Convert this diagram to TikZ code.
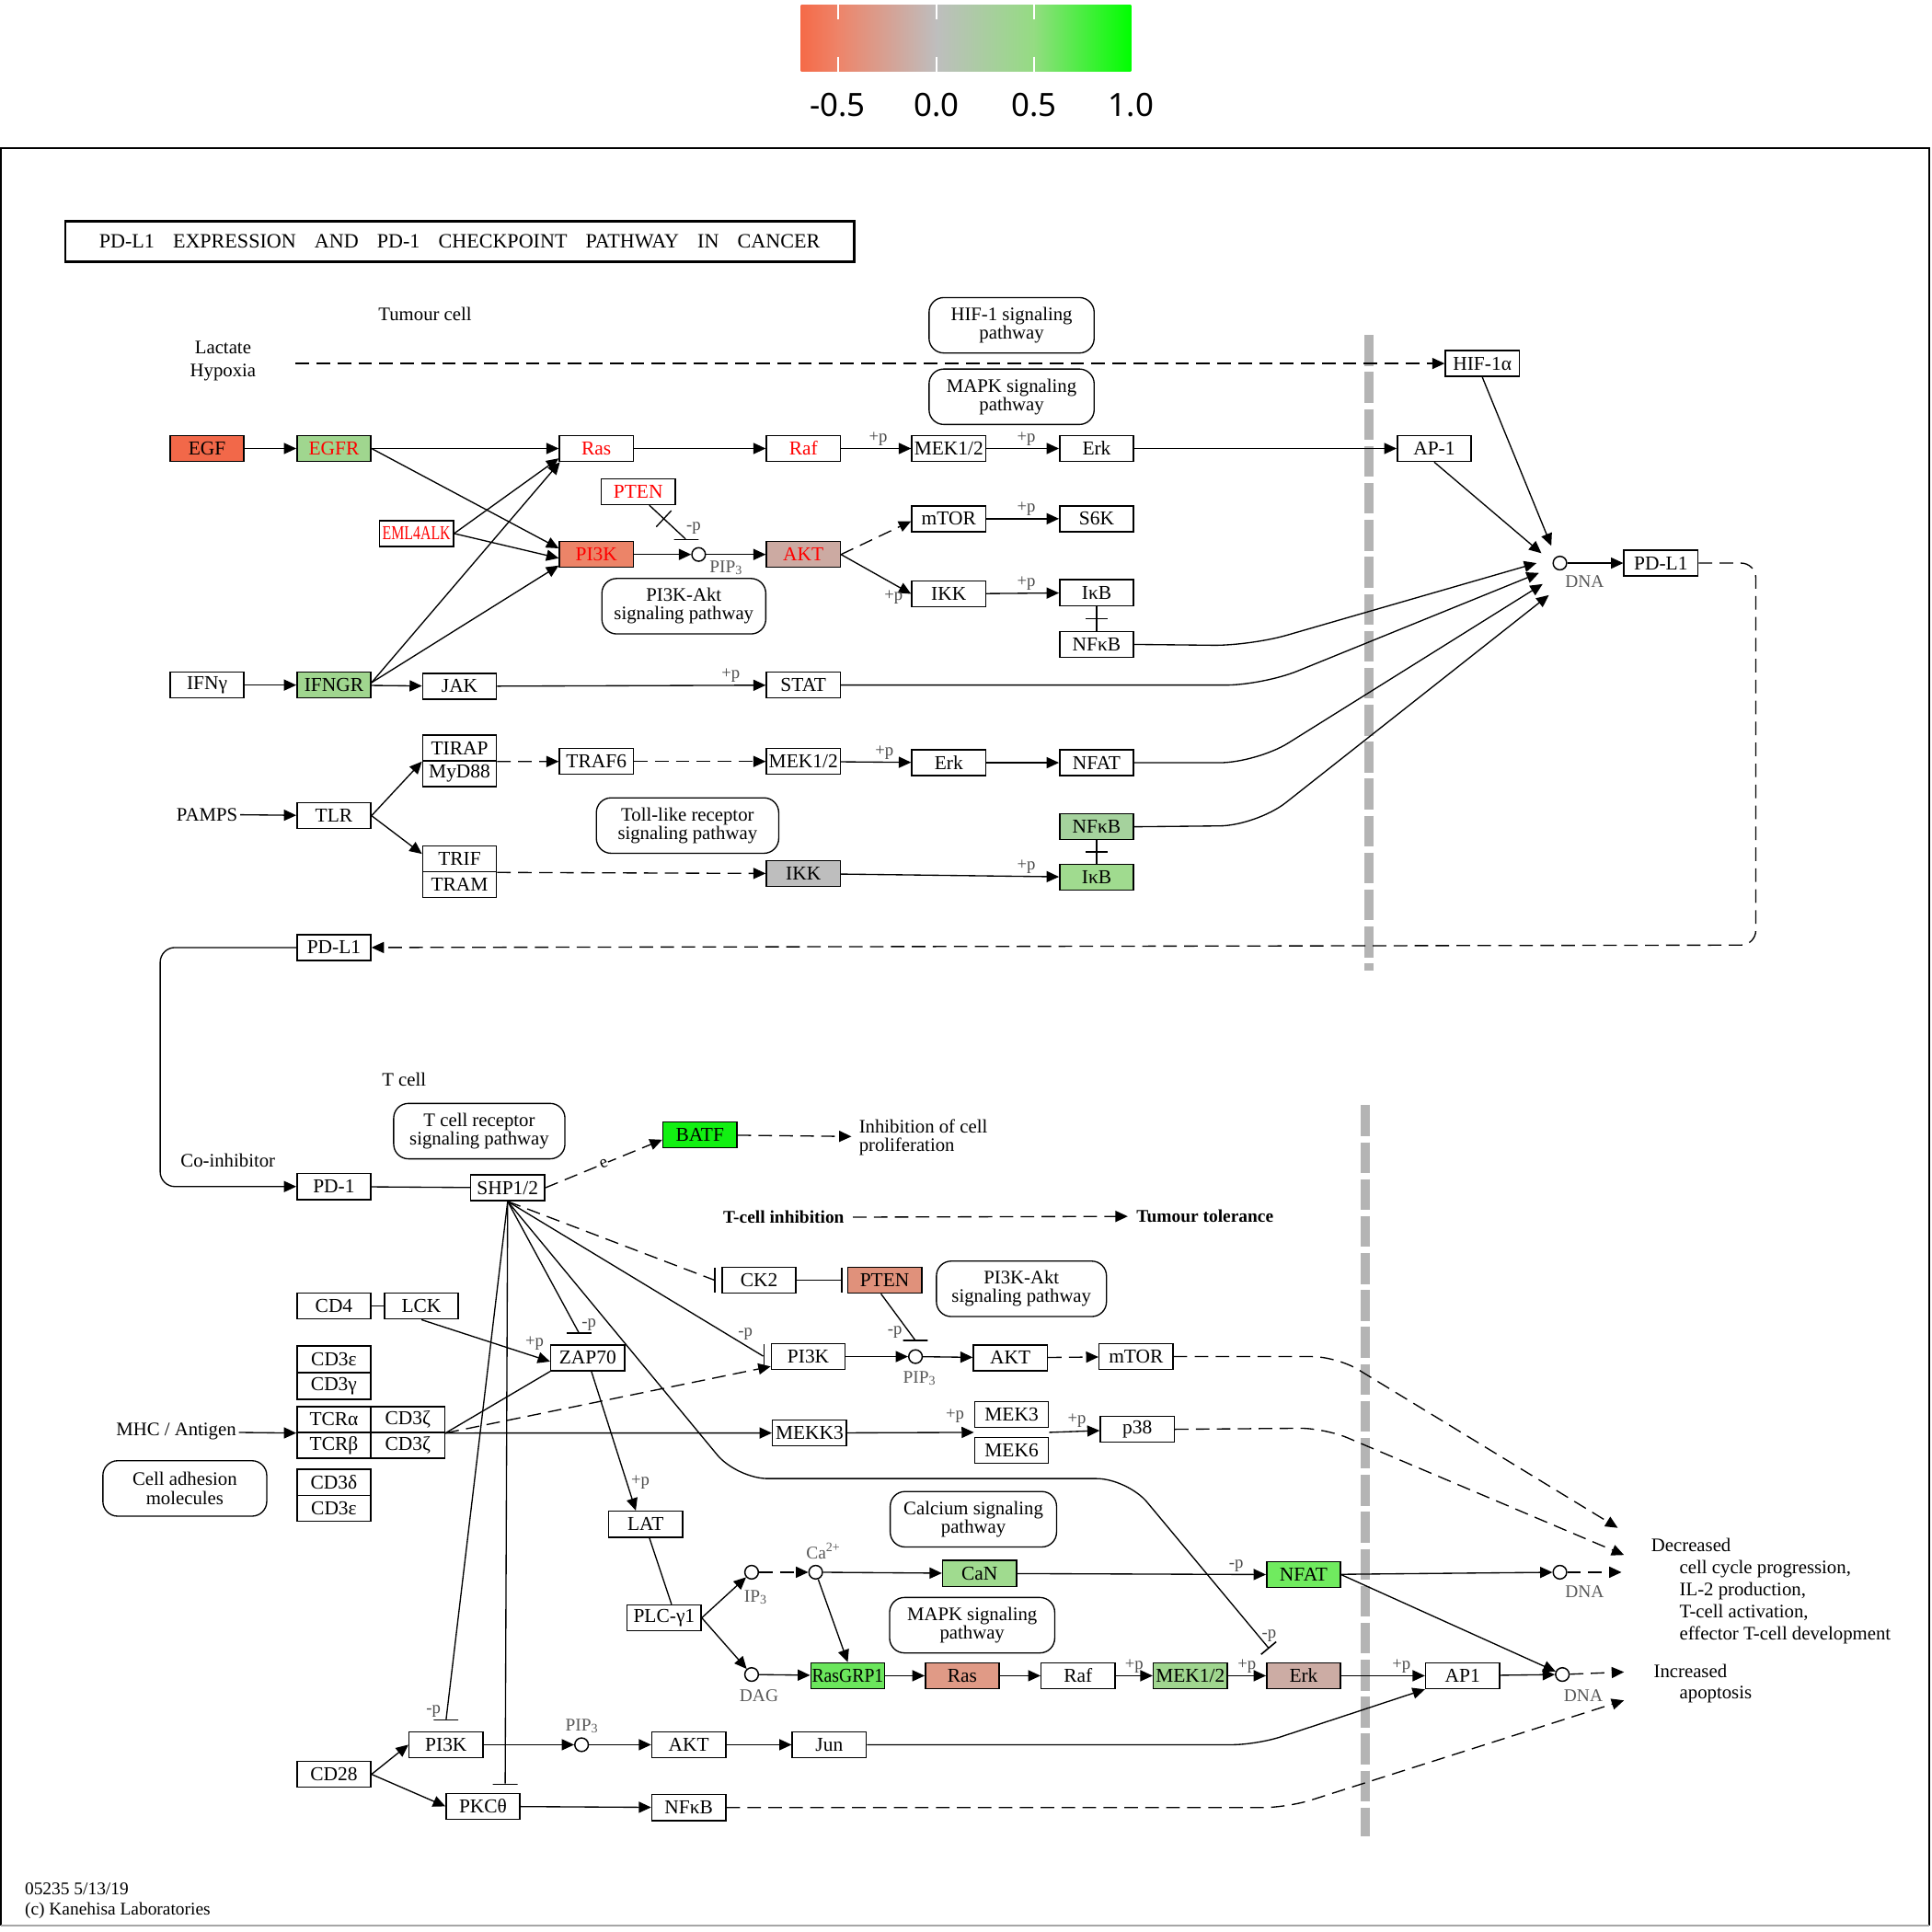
\documentclass[tikz,border=0pt]{standalone}
\usepackage{fontspec}
\setmainfont{Liberation Serif}
\newfontfamily\legendfamily{Noto Sans}
\definecolor{keggEGF}{HTML}{F26849}
\definecolor{keggGreenLt}{HTML}{A0D68F}
\definecolor{keggPIK}{HTML}{EC8468}
\definecolor{keggAKT}{HTML}{CCAAA2}
\definecolor{keggGray}{HTML}{BEBEBE}
\definecolor{keggNFkB}{HTML}{A5D29D}
\definecolor{keggIkB}{HTML}{A0DB8F}
\definecolor{keggBATF}{HTML}{12F012}
\definecolor{keggPTEN}{HTML}{E0917B}
\definecolor{keggNFAT}{HTML}{70EB5F}
\definecolor{keggRasGRP}{HTML}{6BE65C}
\definecolor{keggRas}{HTML}{E09A86}
\definecolor{keggErk}{HTML}{CCACA4}
\definecolor{keggTextRed}{HTML}{FF0000}
\definecolor{keggBarrier}{HTML}{B4B4B4}
\definecolor{legRed}{HTML}{F56A48}
\definecolor{legRedMid}{HTML}{EE8469}
\definecolor{legGray}{HTML}{BEBEBE}
\definecolor{legGreenMid}{HTML}{94DC82}
\definecolor{legGreen}{HTML}{00FF00}
\usetikzlibrary{
	arrows.meta,
	positioning,
	calc,
	decorations.markings
}
\newcommand{\genefont}{\fontsize{16}{16}\selectfont}
\newcommand{\pathfont}{\fontsize{15.5}{15}\selectfont}
\newcommand{\labelfont}{\fontsize{15.5}{18}\selectfont}
\newcommand{\tagfont}{\fontsize{14}{14}\selectfont}
\newcommand{\dnafont}{\fontsize{14.5}{14}\selectfont}
\newcommand{\titlefont}{\fontsize{16.5}{16}\selectfont}
\newcommand{\tgap}{\hspace{15pt}}
\newcommand{\lowsub}[1]{\raisebox{-1.5pt}{\fontsize{10.5}{10}\selectfont #1}}
\tikzset{
	gene/.style={
		draw=black,
		line width=1.1pt,
		fill=white,
		minimum width=60pt,
		minimum height=21pt,
		inner sep=0pt,
		font=\genefont
	},
	geneRed/.style={
		gene,
		text=keggTextRed
	},
	pathway/.style={
		draw=black,
		line width=1pt,
		rounded corners=12pt,
		minimum height=45pt,
		inner sep=0pt,
		align=center,
		font=\pathfont
	},
	compound/.style={
		circle,
		draw=black,
		line width=1.1pt,
		fill=white,
		minimum size=11pt,
		inner sep=0pt
	},
	freetext/.style={
		font=\labelfont,
		inner sep=2pt,
		align=center
	},
	plab/.style={
		font=\tagfont,
		text=black!70,
		inner sep=1pt
	},
	dnalab/.style={
		font=\dnafont,
		text=black!65,
		inner sep=0pt
	},
	titlebox/.style={
		draw=black,
		line width=2.2pt,
		minimum width=640pt,
		minimum height=33pt,
		inner sep=0pt,
		font=\titlefont
	},
	activ/.style={
		-{Triangle[length=10pt,width=9pt]},
		line width=1pt
	},
	activDashed/.style={
		activ,
		dash pattern=on 11pt off 6pt
	},
	edgeLine/.style={
		line width=1pt
	},
	edgeDashed/.style={
		edgeLine,
		dash pattern=on 11pt off 6pt
	},
	hbar/.style={
		draw=black,
		line width=1.2pt,
		minimum width=20pt,
		minimum height=0pt,
		inner sep=0pt
	},
	vbar/.style={
		draw=black,
		line width=1.2pt,
		minimum width=0pt,
		minimum height=20pt,
		inner sep=0pt
	},
	crossbar/.style={
		postaction={decorate},
		decoration={markings, mark=at position #1 with {\draw[line width=1pt] (0,-9pt) -- (0,9pt);}}
	},
	crossbar/.default=0.5,
	barrier/.style={
		draw=keggBarrier,
		line width=7pt,
		dash pattern=on 25pt off 5pt
	},
	legendText/.style={
		font=\legendfamily\fontsize{26}{26}\selectfont,
		inner sep=0pt
	}
}

\begin{document}
\begin{tikzpicture}[x=1pt, y=-1pt]
	\useasboundingbox (0,0) rectangle (1568,1568);
	\fill[white] (0,0) rectangle (1568,1568);

	\shade[left color=legRed, right color=legRedMid] (650,4) rectangle (680.5,58);
	\shade[left color=legRedMid, right color=legGray] (680,4) rectangle (760.5,58);
	\shade[left color=legGray, right color=legGreenMid] (760,4) rectangle (839.5,58);
	\shade[left color=legGreenMid, right color=legGreen] (839,4) rectangle (918,58);
	\foreach \tx in {680,760,839} {
		\draw[white, line width=1.5pt] (\tx,4) -- (\tx,16);
		\draw[white, line width=1.5pt] (\tx,46) -- (\tx,58);
	}
	\foreach \tx/\tv in {680/-0.5, 760/0.0, 839/0.5, 918/1.0}
		\node[legendText] (leg\tx) at (\tx,85) {\tv};

	\draw[line width=1.5pt] (1,1563) -- (1,120) -- (1566,120) -- (1566,1563);
	\draw[line width=1.5pt, black!35] (1,1563) -- (1566,1563);

	\node[titlebox] (title) at (373,196) {PD-L1\tgap EXPRESSION\tgap AND\tgap PD-1\tgap CHECKPOINT\tgap PATHWAY\tgap IN\tgap CANCER};

	\draw[barrier] (1111,272) -- (1111,788);
	\draw[barrier] (1108,897) -- (1108,1490);

	\node[freetext] (tumour) at (345,255) {Tumour cell};
	\node[freetext] (lactate) at (181,293) {Lactate\\Hypoxia};
	\node[pathway, minimum width=134pt] (hifPath) at (821,264) {HIF-1 signaling\\pathway};
	\node[pathway, minimum width=134pt] (mapkPath) at (821,322) {MAPK signaling\\pathway};
	\node[pathway, minimum width=133pt] (pikPath) at (555,492) {PI3K-Akt\\signaling pathway};
	\node[pathway, minimum width=148pt] (tlrPath) at (558,670) {Toll-like receptor\\signaling pathway};

	\node[gene] (hif) at (1203,295) {HIF-1α};
	\node[gene, fill=keggEGF] (egf) at (168,364) {EGF};
	\node[geneRed, fill=keggGreenLt] (egfr) at (271,364) {EGFR};
	\node[geneRed] (ras) at (484,364) {Ras};
	\node[geneRed] (raf) at (652,364) {Raf};
	\node[gene] (mek) at (770,364) {MEK1/2};
	\node[gene] (erk) at (890,364) {Erk};
	\node[gene] (ap1) at (1164,364) {AP-1};
	\node[geneRed] (pten) at (518,399) {PTEN};
	\node[geneRed] (eml) at (338,433) {\scalebox{0.74}[1]{EML4ALK}};
	\node[geneRed, fill=keggPIK] (pik) at (484,450) {PI3K};
	\node[compound] (pip) at (567,450) {};
	\node[geneRed, fill=keggAKT] (akt) at (652,450) {AKT};
	\node[gene] (mtor) at (770,421) {mTOR};
	\node[gene] (sk) at (890,421) {S6K};
	\node[gene] (ikk) at (770,482) {IKK};
	\node[gene] (ikb) at (890,481) {IκB};
	\node[gene] (nfkb) at (890,523) {NFκB};
	\node[hbar] (ptenBar) at (557,438) {};
	\node[plab] (ptenTag) at (563,429) {-p};
	\node[dnalab] (pipLab) at (589,461) {PIP\lowsub{3}};

	\node[gene] (ifng) at (168,556) {IFNγ};
	\node[gene, fill=keggGreenLt] (ifngr) at (271,556) {IFNGR};
	\node[gene] (jak) at (373,557) {JAK};
	\node[gene] (stat) at (652,556) {STAT};

	\node[freetext] (pamps) at (168,661) {PAMPS};
	\node[gene] (tlr) at (271,662) {TLR};
	\node[gene] (tirap) at (373,607) {TIRAP};
	\node[gene] (myd) at (373,628) {MyD88};
	\node[gene] (traf) at (484,618) {TRAF6};
	\node[gene] (mekT) at (652,618) {MEK1/2};
	\node[gene] (erkT) at (770,619) {Erk};
	\node[gene] (nfat) at (890,619) {NFAT};
	\node[gene] (trif) at (373,697) {TRIF};
	\node[gene] (tram) at (373,718) {TRAM};
	\node[gene, fill=keggGray] (ikkT) at (652,709) {IKK};
	\node[gene, fill=keggNFkB] (nfkbT) at (890,671) {NFκB};
	\node[gene, fill=keggIkB] (ikbT) at (890,712) {IκB};

	\node[compound] (dna) at (1266,457) {};
	\node[dnalab] (dnaLab) at (1286,472) {DNA};
	\node[gene] (pdlA) at (1348,457) {PD-L1};
	\node[gene] (pdlB) at (271,769) {PD-L1};
	\coordinate (dnaInHif) at (1259,443);
	\coordinate (dnaInAp) at (1251,449);
	\coordinate (dnaInNfkb) at (1247,457);
	\coordinate (dnaInStat) at (1249,465);
	\coordinate (dnaInNfat) at (1252,474);
	\coordinate (dnaInNfkbT) at (1257,483);

	\draw[activDashed] ([xshift=30pt]lactate.east |- hif) -- (hif);
	\draw[activ] (egf) -- (egfr);
	\draw[activ] (egfr) -- (ras);
	\draw[activ] (ras) -- (raf);
	\draw[activ] (raf) -- node[plab, pos=.53, above=1pt]{+p} (mek);
	\draw[activ] (mek) -- node[plab, pos=.55, above=1pt]{+p} (erk);
	\draw[activ] (erk) -- (ap1);
	\draw[activ] (egfr.east) -- ([yshift=5pt]pik.west);
	\draw[activ] (eml.east) -- ([yshift=-8pt]ras.west);
	\draw[activ] (eml.east) -- ([yshift=-3pt]pik.west);
	\draw[activ] ([yshift=2pt]ifngr.east) -- ([xshift=1pt,yshift=-11pt]ras.west);
	\draw[activ] ([yshift=2pt]ifngr.east) -- ([yshift=-9pt]pik.west);
	\draw[activ] (pik) -- (pip);
	\draw[activ] (pip) -- (akt);
	\draw[edgeLine, crossbar=.4] ([xshift=9pt]pten.south) -- (ptenBar);
	\draw[activDashed] (akt.east) -- ([yshift=-2pt]mtor.west);
	\draw[activ] (akt.east) -- node[plab, pos=.75, below=4pt]{+p} (ikk.west);
	\draw[activ] (mtor) -- node[plab, pos=.55, above=1pt]{+p} (sk);
	\draw[activ] (ikk) -- node[plab, pos=.55, above=1pt]{+p} (ikb);
	\draw[edgeLine, crossbar] (ikb) -- (nfkb);

	\draw[activ] (ifng) -- (ifngr);
	\draw[activ] (ifngr) -- (jak);
	\draw[activ] (jak) -- node[plab, pos=.87, above=1pt]{+p} (stat);

	\draw[activ] (pamps) -- (tlr);
	\draw[activ] (tlr.east) -- (tirap.south west);
	\draw[activ] (tlr.east) -- ([yshift=4pt]trif.west);
	\draw[activDashed] (tirap.south east) -- (traf);
	\draw[activDashed] (traf) -- (mekT);
	\draw[activ] (mekT) -- node[plab, pos=.62, above=1pt]{+p} (erkT);
	\draw[activ] (erkT) -- (nfat);
	\draw[activDashed] (trif.south east) -- (ikkT);
	\draw[activ] (ikkT) -- node[plab, pos=.85, above=1pt]{+p} (ikbT);
	\draw[edgeLine, crossbar] (nfkbT) -- (ikbT);

	\draw[activ] (hif.south) -- (dnaInHif);
	\draw[activ] (ap1.south) -- (dnaInAp);
	\draw[activ, rounded corners=30pt] (nfkb.east) -- (1015,524) -- (dnaInNfkb);
	\draw[activ, rounded corners=30pt] (stat.east) -- (1025,556) -- (dnaInStat);
	\draw[activ, rounded corners=30pt] (nfat.east) -- (1020,619) -- (dnaInNfat);
	\draw[activ, rounded corners=30pt] (nfkbT.east) -- (1020,670) -- (dnaInNfkbT);
	\draw[activ] (dna) -- (pdlA);
	\draw[activDashed, rounded corners=12pt] (pdlA.east) -- (1425,457) -- (1425,767) -- (pdlB.east);

	\node[freetext] (tcell) at (328,876) {T cell};
	\node[freetext] (coinh) at (185,942) {Co-inhibitor};
	\node[pathway, minimum width=139pt] (tcrPath) at (389,918) {T cell receptor\\signaling pathway};
	\node[pathway, minimum width=138pt] (pikPathT) at (829,1046) {PI3K-Akt\\signaling pathway};
	\node[pathway, minimum width=135pt] (caPath) at (790,1233) {Calcium signaling\\pathway};
	\node[pathway, minimum width=134pt] (mapkPathT) at (789,1319) {MAPK signaling\\pathway};
	\node[pathway, minimum width=133pt] (camPath) at (150,1208) {Cell adhesion\\molecules};

	\node[gene] (pd1) at (271,963) {PD-1};
	\node[gene] (shp) at (412,964) {SHP1/2};
	\node[gene, fill=keggBATF] (batf) at (568,921) {BATF};
	\node[freetext, align=left, inner sep=6pt, anchor=west, font=\pathfont] (prolif) at (691,923) {Inhibition of cell\\proliferation};
	\node[freetext, inner sep=7pt, font=\fontsize{14.5}{14}\selectfont\bfseries] (tinh) at (636,988) {T-cell inhibition};
	\node[freetext, inner sep=7pt, font=\fontsize{14.5}{14}\selectfont\bfseries] (ttol) at (978,987) {Tumour tolerance};
	\node[gene] (ck) at (616,1039) {CK2};
	\node[gene, fill=keggPTEN] (ptenT) at (718,1039) {PTEN};
	\node[gene] (cdf) at (271,1060) {CD4};
	\node[gene] (lck) at (342,1060) {LCK};
	\node[gene] (zap) at (477,1102) {ZAP70};
	\node[gene] (pikT) at (656,1101) {PI3K};
	\node[compound] (pipT) at (743,1101) {};
	\node[dnalab] (pipTLab) at (746,1119) {PIP\lowsub{3}};
	\node[gene] (aktT) at (820,1102) {AKT};
	\node[gene] (mtorT) at (922,1101) {mTOR};
	\node[gene] (cdea) at (271,1103) {CD3ε};
	\node[gene] (cdg) at (271,1125) {CD3γ};
	\node[gene] (tcra) at (271,1152) {TCRα};
	\node[gene] (cdza) at (331,1152) {CD3ζ};
	\node[gene] (tcrb) at (271,1173) {TCRβ};
	\node[gene] (cdzb) at (331,1173) {CD3ζ};
	\node[gene] (cdd) at (271,1203) {CD3δ};
	\node[gene] (cdeb) at (271,1224) {CD3ε};
	\node[freetext] (mhc) at (143,1162) {MHC / Antigen};
	\node[gene] (mekk) at (657,1163) {MEKK3};
	\node[gene] (mekc) at (821,1148) {MEK3};
	\node[gene] (mekf) at (821,1177) {MEK6};
	\node[gene] (p38) at (923,1160) {p38};
	\node[gene] (lat) at (524,1237) {LAT};
	\node[gene] (plc) at (539,1313) {PLC-γ1};
	\node[compound] (ip) at (610,1276) {};
	\node[dnalab] (ipLab) at (613,1296) {IP\lowsub{3}};
	\node[compound] (ca) at (662,1276) {};
	\node[dnalab] (caLab) at (668,1259) {Ca\raisebox{6pt}{\fontsize{10.5}{10}\selectfont 2+}};
	\node[compound] (dag) at (610,1359) {};
	\node[dnalab] (dagLab) at (616,1376) {DAG};
	\node[gene, fill=keggIkB] (can) at (795,1277) {CaN};
	\node[gene, fill=keggNFAT] (nfatT) at (1058,1278) {NFAT};
	\node[gene, fill=keggRasGRP] (rasgrp) at (688,1360) {\scalebox{0.92}[1]{RasGRP1}};
	\node[gene, fill=keggRas] (rasT) at (781,1360) {Ras};
	\node[gene] (rafT) at (875,1360) {Raf};
	\node[gene, fill=keggGreenLt] (mekL) at (966,1360) {MEK1/2};
	\node[gene, fill=keggErk] (erkL) at (1058,1360) {Erk};
	\node[gene] (apL) at (1187,1360) {AP1};
	\node[compound] (dnaD) at (1266,1276) {};
	\node[dnalab] (dnaDLab) at (1286,1292) {DNA};
	\node[compound] (dnaI) at (1268,1359) {};
	\node[dnalab] (dnaILab) at (1285,1376) {DNA};
	\node[gene] (cdte) at (271,1440) {CD28};
	\node[gene] (pikL) at (362,1416) {PI3K};
	\node[compound] (pipL) at (472,1416) {};
	\node[dnalab] (pipLLab) at (472,1401) {PIP\lowsub{3}};
	\node[gene] (aktL) at (559,1416) {AKT};
	\node[gene] (jun) at (673,1416) {Jun};
	\node[gene] (pkc) at (392,1466) {PKCθ};
	\node[gene] (nfkbL) at (559,1467) {NFκB};

	\node[vbar] (ckBar) at (580,1039) {};
	\node[vbar] (ptenBarT) at (683,1039) {};
	\node[vbar] (pikBar) at (620,1101) {};
	\node[hbar] (zapBar) at (470,1082) {};
	\node[hbar] (pipBar) at (743,1088) {};
	\node[hbar] (pikLBar) at (362,1396) {};
	\node[hbar] (pkcBar) at (410,1448) {};
	\coordinate (erkBar) at (1030,1338);
	\coordinate (outDecA) at (1313,1240);
	\coordinate (outDecB) at (1318,1262);
	\coordinate (outDecC) at (1316,1276);
	\coordinate (outIncA) at (1318,1357);
	\coordinate (outIncB) at (1318,1380);

	\node[freetext, anchor=west, inner sep=0pt] (decr) at (1340,1254) {Decreased};
	\node[freetext, anchor=north west, align=left, inner sep=0pt] (decrList) at (1363,1266) {cell cycle progression,\\IL-2 production,\\T-cell activation,\\effector T-cell development};
	\node[freetext, anchor=west, inner sep=0pt] (incr) at (1342,1356) {Increased};
	\node[freetext, anchor=west, inner sep=0pt] (apop) at (1363,1375) {apoptosis};

	\draw[activ, rounded corners=12pt] (pdlB.west) -- (130,769) -- (130,963) -- (pd1.west);
	\draw[edgeLine] (pd1) -- (shp);
	\draw[activDashed] (shp.east) -- node[pos=.5, sloped, fill=white, inner sep=0.5pt, font=\tagfont]{e} ([yshift=-4pt]batf.west);
	\draw[activDashed] (batf) -- (prolif);
	\draw[activDashed] (tinh) -- (ttol);
	\draw[edgeDashed] (shp.south) -- (ckBar);
	\draw[edgeLine] (ck) -- (ptenBarT);
	\draw[edgeLine] (shp.south) -- node[plab, pos=.93, above=3pt]{-p} (pikBar);
	\draw[edgeLine] (shp.south) -- (zapBar) node[plab, pos=1, anchor=south west, xshift=1pt]{-p};
	\draw[edgeLine] (shp.south) -- (pikLBar) node[plab, pos=1, anchor=south east, xshift=-3pt]{-p};
	\draw[edgeLine] (shp.south) -- (pkcBar);
	\draw[edgeLine, rounded corners=25pt, -{Bar[width=16pt,line width=1.2pt]}] (shp.south) -- (598,1200) -- (915,1200) -- (erkBar) node[plab, pos=1, anchor=south, yshift=4pt]{-p};
	\draw[edgeLine] ([xshift=-3pt]ptenT.south) -- (pipBar) node[plab, pos=1, anchor=south east, xshift=-9pt]{-p};

	\draw[activ] (mhc) -- (tcra.south west);
	\draw[edgeLine] (cdf) -- (lck);
	\draw[activ] (lck.south) -- node[plab, pos=.88, above=4pt]{+p} ([yshift=-3pt]zap.west);
	\draw[edgeLine] (cdza.south east) -- (zap.south west);
	\draw[activDashed] (cdza.south east) -- ([yshift=-8pt]pikT.west);
	\draw[activ] (cdza.south east) -- (mekk.west);
	\draw[activ] ([xshift=3pt]zap.south) -- node[plab, pos=.8, right=2pt]{+p} ([xshift=-8pt]lat.north);
	\draw[edgeLine] ([xshift=3pt]lat.south) -- ([xshift=6pt]plc.north);
	\draw[activ] (plc.east) -- (ip);
	\draw[activ] (plc.east) -- (dag);
	\draw[activDashed] (ip) -- (ca);
	\draw[activ] (ca) -- (can);
	\draw[activ] (ca) -- (rasgrp.north);
	\draw[activ] (dag) -- (rasgrp);
	\draw[activ] (rasgrp) -- (rasT);
	\draw[activ] (rasT) -- (rafT);
	\draw[activ] (rafT) -- node[plab, pos=.5, above=1pt]{+p} (mekL);
	\draw[activ] (mekL) -- node[plab, pos=.5, above=1pt]{+p} (erkL);
	\draw[activ] (erkL) -- node[plab, pos=.72, above=1pt]{+p} (apL);
	\draw[activ] (can) -- node[plab, pos=.88, above=1pt]{-p} (nfatT);
	\draw[activ] (nfatT) -- (dnaD);
	\draw[activ] (nfatT.east) -- (dnaI);
	\draw[activ] (apL) -- (dnaI);
	\draw[activDashed] (dnaD) -- (outDecC);
	\draw[activDashed] (dnaI) -- (outIncA);

	\draw[activ] (pikT) -- (pipT);
	\draw[activ] (pipT) -- (aktT);
	\draw[activDashed] (aktT) -- (mtorT);
	\draw[activ] (mekk) -- node[plab, pos=.85, above=6pt]{+p} ($(mekc.south west)!.5!(mekf.north west)$);
	\draw[activ] ($(mekc.south east)!.5!(mekf.north east)$) -- node[plab, pos=.55, above=2pt]{+p} (p38);
	\draw[activDashed, rounded corners=20pt] (mtorT.east) -- (1085,1101) -- (outDecA);
	\draw[activDashed, rounded corners=20pt] (p38.east) -- (1075,1159) -- (outDecB);

	\draw[activ] (cdte.east) -- (pikL.west);
	\draw[activ] (cdte.east) -- (pkc.west);
	\draw[activ] (pikL) -- (pipL);
	\draw[activ] (pipL) -- (aktL);
	\draw[activ] (aktL) -- (jun);
	\draw[activ] (pkc) -- (nfkbL);
	\draw[activ, rounded corners=20pt] (jun.east) -- (1020,1416) -- (apL.south west);
	\draw[activDashed, rounded corners=20pt] (nfkbL.east) -- (1045,1467) -- (outIncB);

	\node[freetext, anchor=north west, align=left, inner sep=0pt, font=\fontsize{14.5}{16}\selectfont] (footer) at (20,1528) {05235 5/13/19\\(c) Kanehisa Laboratories};
\end{tikzpicture}
\end{document}
